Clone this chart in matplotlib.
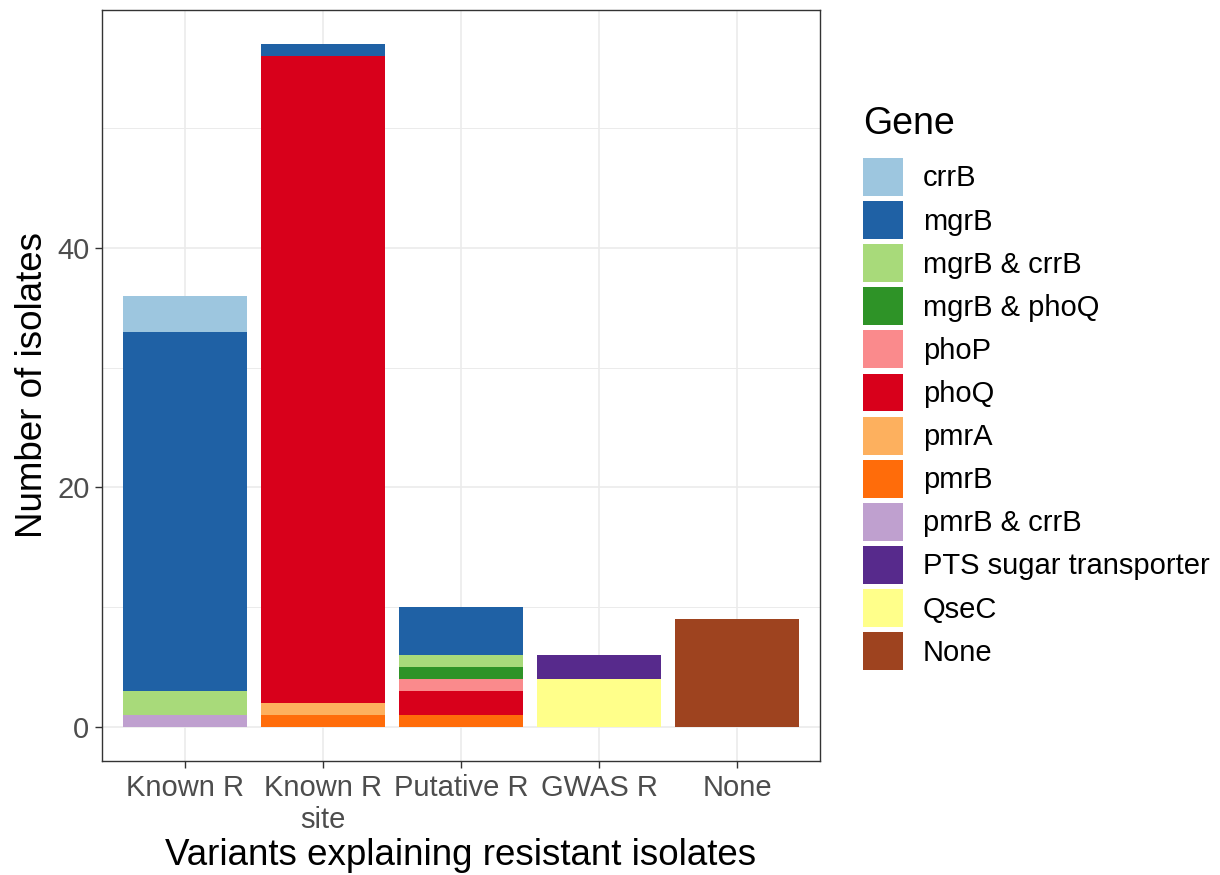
import numpy as np
import matplotlib
matplotlib.use("Agg")
import matplotlib.pyplot as plt
from matplotlib.patches import Patch
from matplotlib.ticker import MultipleLocator

plt.rcParams["font.family"] = ["Liberation Sans", "DejaVu Sans"]

# categories on x, genes in legend order (first level is stacked on top)
categories = ["Known R", "Known R\nsite", "Putative R", "GWAS R", "None"]
genes = ["crrB", "mgrB", "mgrB & crrB", "mgrB & phoQ", "phoP", "phoQ", "pmrA",
         "pmrB", "pmrB & crrB", "PTS sugar transporter", "QseC", "None"]
colors = ["#9DC6DF", "#1F61A5", "#A8DA7A", "#2E9327", "#FA8A8C", "#D8001B",
          "#FDB05E", "#FF6C0A", "#BFA0CF", "#572A8C", "#FFFF8A", "#9E431F"]

# counts per gene (rows follow `genes`) for each category
known_r      = [3, 30, 2, 0, 0, 0, 0, 0, 1, 0, 0, 0]
known_r_site = [0, 1, 0, 0, 0, 54, 1, 1, 0, 0, 0, 0]
putative_r   = [0, 4, 1, 1, 1, 2, 0, 1, 0, 0, 0, 0]
gwas_r       = [0, 0, 0, 0, 0, 0, 0, 0, 0, 2, 4, 0]
none_        = [0, 0, 0, 0, 0, 0, 0, 0, 0, 0, 0, 9]

counts = np.array([known_r, known_r_site, putative_r, gwas_r, none_], float).T

W, H = 1220, 875
fig = plt.figure(figsize=(W / 100, H / 100), dpi=100)
ax = fig.add_axes([102 / W, 1 - 761 / H, 718 / W, 751 / H])

x = np.arange(1, len(categories) + 1)
bottom = np.zeros(len(categories))
# stack from the last level upwards so the first level sits on top
for i in range(len(genes) - 1, -1, -1):
    ax.bar(x, counts[i], 0.9, bottom=bottom, color=colors[i], linewidth=0, zorder=3)
    bottom += counts[i]

ax.set_xlim(0.4, 5.6)
ax.set_ylim(-2.85, 59.85)
ax.set_xticks(x)
ax.set_xticklabels(categories)
ax.yaxis.set_major_locator(MultipleLocator(20))
ax.yaxis.set_minor_locator(MultipleLocator(10))

ax.grid(True, which="major", color="#EBEBEB", lw=1.2, zorder=0)
ax.grid(True, which="minor", axis="y", color="#EBEBEB", lw=0.7, zorder=0)
ax.tick_params(which="minor", length=0)
ax.tick_params(which="major", length=5, width=1, color="#333333",
               labelsize=21, labelcolor="#4D4D4D")
ax.tick_params(axis="x", pad=4)
ax.tick_params(axis="y", pad=4)
for sp in ax.spines.values():
    sp.set_color("#333333"); sp.set_linewidth(1)

ax.set_xlabel("Variants explaining resistant isolates", fontsize=26.5, labelpad=3)
ax.set_ylabel("Number of isolates", fontsize=26.5, labelpad=5)

fig.text(863 / W, 1 - 134 / H, "Gene", fontsize=27, ha="left", va="baseline")
handles = [Patch(facecolor=c, edgecolor="none") for c in colors]
leg = fig.legend(handles, genes, loc="upper left",
                 bbox_to_anchor=(863 / W, 1 - 158 / H), frameon=False,
                 fontsize=21, handlelength=1.37, handleheight=1.62,
                 labelspacing=0.18, handletextpad=0.68,
                 borderpad=0, borderaxespad=0)

fig.savefig("out.png", dpi=100)
